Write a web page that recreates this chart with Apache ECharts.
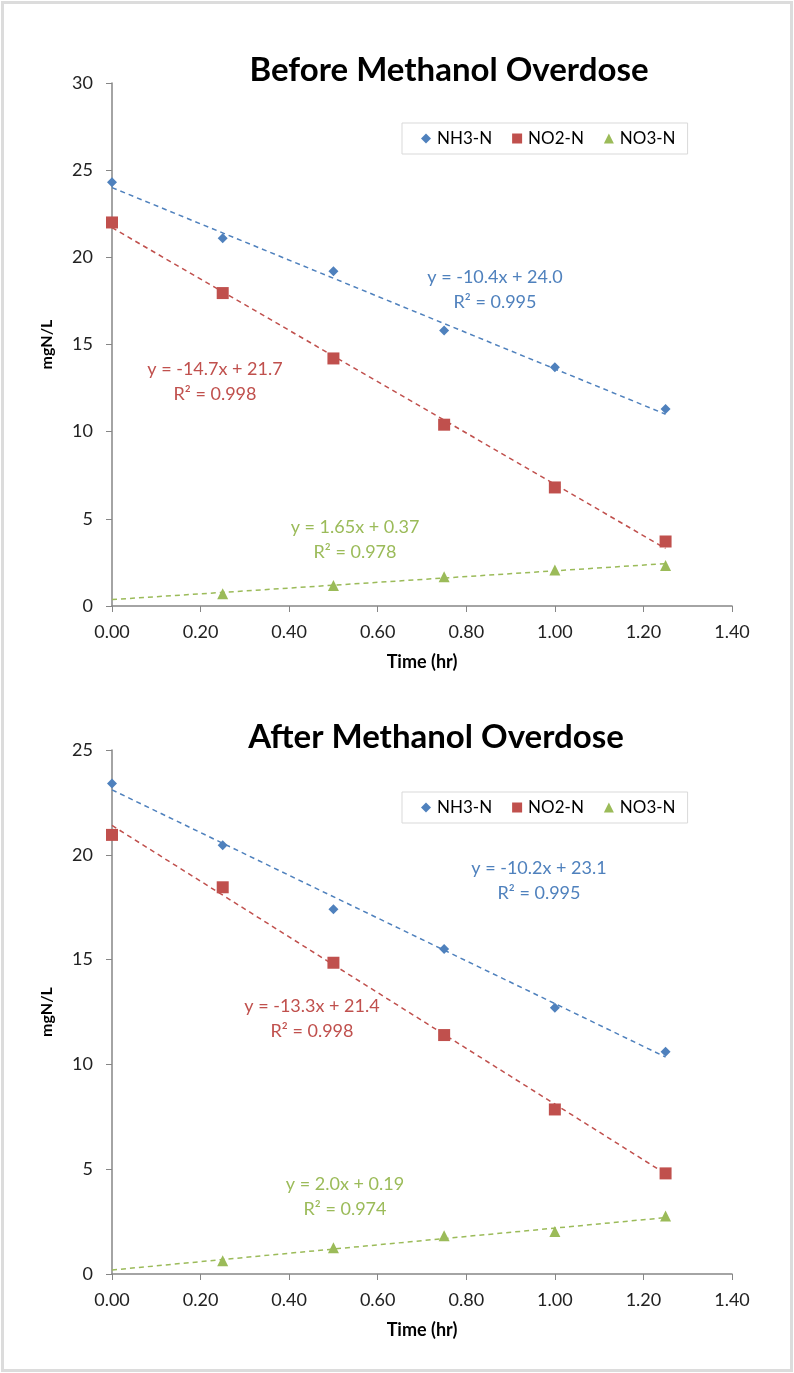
<!DOCTYPE html>
<html>
<head>
<meta charset="utf-8">
<script src="https://cdn.jsdelivr.net/npm/echarts@6/dist/echarts.min.js"></script>
<style>
  html, body { margin: 0; padding: 0; background: #fff; }
  #frame {
    position: absolute; left: 1px; top: 1px; width: 786px; height: 1365px;
    border: 3px solid #dcdcdc; box-sizing: content-box; z-index: 5; pointer-events: none;
  }
  #chart { position: absolute; left: 0; top: 0; width: 794px; height: 1373px; }
</style>
</head>
<body>
<div id="chart"></div>
<div id="frame"></div>
<script>
// time points (hr)
const times = [0, 0.25, 0.5, 0.75, 1.0, 1.25]
const seriesNames = ['NH3-N', 'NO2-N', 'NO3-N']

// before methanol overdose
const beforeNH3 = [24.3, 21.1, 19.2, 15.8, 13.7, 11.3]
const beforeNO2 = [22.0, 17.95, 14.2, 10.4, 6.8, 3.7]
const beforeNO3 = [null, 0.7, 1.17, 1.68, 2.06, 2.33]

// after methanol overdose
const afterNH3 = [23.4, 20.45, 17.4, 15.5, 12.7, 10.6]
const afterNO2 = [20.95, 18.45, 14.85, 11.4, 7.85, 4.8]
const afterNO3 = [null, 0.63, 1.25, 1.82, 2.03, 2.77]

// trendline ends at x = 0 and x = 1.25
const trendX = [0, 1.25]
const beforeTrendNH3 = [24.0, 11.0]
const beforeTrendNO2 = [21.7, 3.3]
const beforeTrendNO3 = [0.37, 2.43]
const afterTrendNH3 = [23.1, 10.35]
const afterTrendNO2 = [21.4, 4.78]
const afterTrendNO3 = [0.19, 2.69]

const beforeEq = [['y = -10.4x + 24.0', 'R² = 0.995'], ['y = -14.7x + 21.7', 'R² = 0.998'], ['y = 1.65x + 0.37', 'R² = 0.978']]
const afterEq = [['y = -10.2x + 23.1', 'R² = 0.995'], ['y = -13.3x + 21.4', 'R² = 0.998'], ['y = 2.0x + 0.19', 'R² = 0.974']]

const colors = ['#4F81BD', '#C0504D', '#9BBB59']
const symbols = ['diamond', 'rect', 'triangle']
const symbolSizes = [10, 12, 11]
const fontFamily = 'Lato, "Open Sans", sans-serif'

const myChart = echarts.init(document.getElementById('chart'))

function pairs(xs, ys) {
  const out = []
  xs.forEach((x, i) => {
    if (ys[i] !== null) out.push([x, ys[i]])
  })
  return out
}

function makeSeries(idx, values, trends) {
  const list = []
  values.forEach((vals, k) => {
    // 趋势线
    list.push({
      name: seriesNames[k] + ' trend',
      type: 'line',
      xAxisIndex: idx,
      yAxisIndex: idx,
      data: pairs(trendX, trends[k]),
      symbol: 'none',
      silent: true,
      itemStyle: { color: colors[k] },
      lineStyle: { color: colors[k], width: 1.5, type: [5, 4] },
      z: 2
    })
    list.push({
      name: seriesNames[k],
      type: 'scatter',
      xAxisIndex: idx,
      yAxisIndex: idx,
      data: pairs(times, vals),
      symbol: symbols[k],
      symbolSize: symbolSizes[k],
      itemStyle: { color: colors[k], opacity: 1 },
      z: 3
    })
  })
  return list
}

function xAxis(idx) {
  return {
    type: 'value',
    gridIndex: idx,
    min: 0,
    max: 1.4,
    interval: 0.2,
    name: 'Time (hr)',
    nameLocation: 'middle',
    nameGap: 47,
    nameTextStyle: { fontFamily, fontWeight: 'bold', fontSize: 18, color: '#000' },
    axisLine: { show: true, onZero: false, lineStyle: { color: '#868686', width: 1.5 } },
    axisTick: { show: true, length: 6, lineStyle: { color: '#868686' } },
    axisLabel: { fontFamily, fontSize: 18, color: '#222', margin: 17, formatter: v => v.toFixed(2) },
    splitLine: { show: false }
  }
}

function yAxis(idx, max) {
  return {
    type: 'value',
    gridIndex: idx,
    min: 0,
    max: max,
    interval: 5,
    name: 'mgN/L',
    nameLocation: 'middle',
    nameGap: 57,
    nameTextStyle: { fontFamily, fontWeight: 'bold', fontSize: 16, color: '#000' },
    axisLine: { show: true, lineStyle: { color: '#868686', width: 1.5 } },
    axisTick: { show: true, length: 6, lineStyle: { color: '#868686' } },
    axisLabel: { fontFamily, fontSize: 18, color: '#222', margin: 19 },
    splitLine: { show: false }
  }
}

function legend(top) {
  return {
    data: seriesNames.map((n, k) => ({ name: n, icon: symbols[k] })),
    left: 402,
    top: top,
    orient: 'horizontal',
    itemWidth: 10,
    itemHeight: 10,
    itemGap: 20,
    padding: [7, 12, 7, 19],
    borderColor: '#d9d9d9',
    borderWidth: 1,
    selectedMode: false,
    textStyle: { fontFamily, fontSize: 17, color: '#000', padding: [0, 0, 0, 1] }
  }
}

function eqText(cx, cy, lines, color) {
  return lines.map((t, i) => ({
    type: 'text',
    x: cx,
    y: cy + i * 25,
    style: {
      text: t,
      fill: color,
      font: '18px ' + fontFamily,
      align: 'center',
      verticalAlign: 'middle'
    },
    silent: true
  }))
}

const options = {
  backgroundColor: 'transparent',
  animation: false,
  title: [
    { text: 'Before Methanol Overdose', left: 444, top: 49, textAlign: 'center',
      textStyle: { fontFamily, fontWeight: 'bold', fontSize: 33, color: '#000' } },
    { text: 'After Methanol Overdose', left: 431, top: 716, textAlign: 'center',
      textStyle: { fontFamily, fontWeight: 'bold', fontSize: 33, color: '#000' } }
  ],
  legend: [legend(123), legend(792)],
  grid: [
    { left: 112, top: 83, width: 620, height: 523 },
    { left: 112, top: 750, width: 620, height: 524 }
  ],
  xAxis: [xAxis(0), xAxis(1)],
  yAxis: [yAxis(0, 30), yAxis(1, 25)],
  series: [].concat(
    makeSeries(0, [beforeNH3, beforeNO2, beforeNO3], [beforeTrendNH3, beforeTrendNO2, beforeTrendNO3]),
    makeSeries(1, [afterNH3, afterNO2, afterNO3], [afterTrendNH3, afterTrendNO2, afterTrendNO3])
  ),
  graphic: [].concat(
    eqText(495, 277, beforeEq[0], colors[0]),
    eqText(215, 369, beforeEq[1], colors[1]),
    eqText(355, 527, beforeEq[2], colors[2]),
    eqText(539, 868, afterEq[0], colors[0]),
    eqText(312, 1006, afterEq[1], colors[1]),
    eqText(345, 1184, afterEq[2], colors[2])
  )
}

myChart.setOption(options)
</script>
</body>
</html>
